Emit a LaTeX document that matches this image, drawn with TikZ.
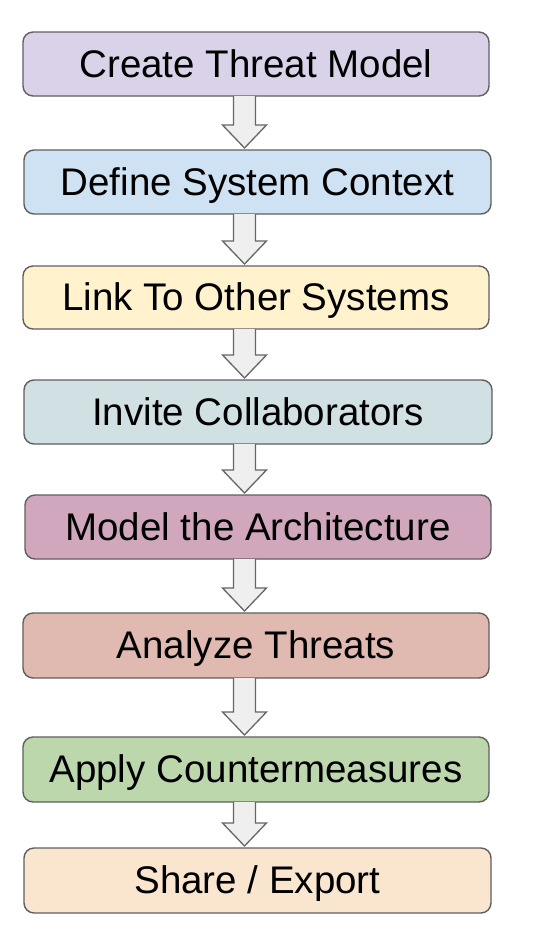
\documentclass[tikz,border=0pt]{standalone}
\usepackage{fontspec}
\setmainfont{Liberation Sans}
\definecolor{bordergray}{HTML}{5F5F5F}
\definecolor{arrowfill}{HTML}{EFEFEF}
\definecolor{arrowline}{HTML}{666666}
\definecolor{cA}{HTML}{D9D2E9}
\definecolor{cB}{HTML}{CFE2F3}
\definecolor{cC}{HTML}{FFF2CC}
\definecolor{cD}{HTML}{D0E0E3}
\definecolor{cE}{HTML}{D0A7BD}
\definecolor{cF}{HTML}{E0B9B0}
\definecolor{cG}{HTML}{BCD7AC}
\definecolor{cH}{HTML}{FAE5CF}
\tikzset{
  stepbox/.style={draw=bordergray, line width=1.4pt, rounded corners=10pt},
  steplabel/.style={font=\fontsize{38.5}{42}\selectfont, text=black, inner sep=0pt, anchor=base},
  flowarrow/.style={draw=arrowline, fill=arrowfill, line width=1.3pt, line join=miter}
}
\begin{document}
\begin{tikzpicture}[x=1pt,y=-1pt]
\useasboundingbox (0,0) rectangle (538,938);
% boxes: name / left / top / right / bottom / colour / text
\foreach \n/\l/\t/\r/\b/\c/\txt in {
  b1/23/32/489/96/cA/{Create Threat Model},
  b2/24/150/491/214/cB/{Define System Context},
  b3/23/266/489/329/cC/{Link To Other Systems},
  b4/24/380/492/444/cD/{Invite Collaborators},
  b5/25/495/491/559/cE/{Model the Architecture},
  b6/23/613/489/678/cF/{Analyze Threats},
  b7/23/737/489/802/cG/{Apply Countermeasures},
  b8/24/848/491/913/cH/{Share / Export}}{
  \draw[stepbox, fill=\c] (\l,\t) rectangle (\r,\b);
  \coordinate (\n-top) at (244.5,\t);
  \coordinate (\n-bot) at (244.5,\b);
  \node[steplabel] (\n) at ({(\l+\r)/2},{(\t+\b)/2+13}) {\txt};
}
% block arrows between consecutive boxes
\foreach \a/\z in {b1/b2,b2/b3,b3/b4,b4/b5,b5/b6,b6/b7,b7/b8}{
  \draw[flowarrow]
    ([xshift=-11pt]\a-bot) --
    ([xshift=-11pt,yshift=25pt]\z-top) --
    ([xshift=-22pt,yshift=25pt]\z-top) --
    ([yshift=2pt]\z-top) --
    ([xshift=22pt,yshift=25pt]\z-top) --
    ([xshift=11pt,yshift=25pt]\z-top) --
    ([xshift=11pt]\a-bot);
}
\end{tikzpicture}
\end{document}
